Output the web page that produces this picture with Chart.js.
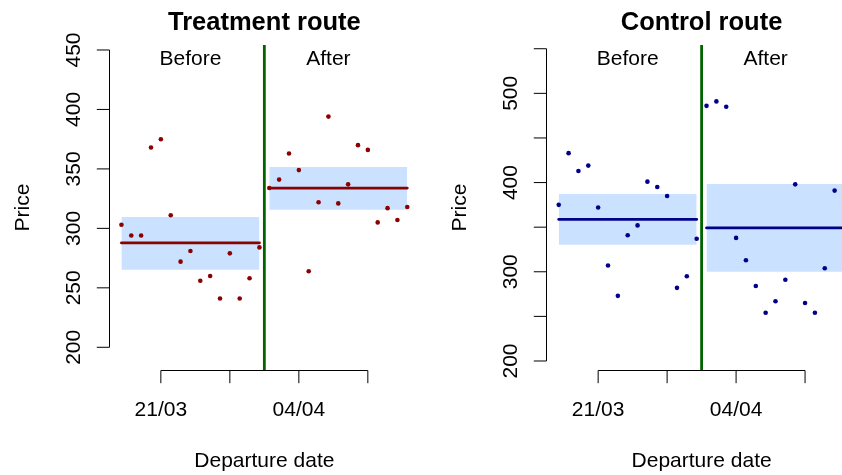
<!DOCTYPE html>
<html>
<head>
<meta charset="utf-8">
<script src="https://cdn.jsdelivr.net/npm/chart.js@4.4.1/dist/chart.umd.min.js"></script>
<style>
  html, body { margin: 0; padding: 0; background: #fff; overflow: hidden; width: 842px; height: 475px; }
  #left { position: absolute; left: 0; top: 0; }
  #rightWrap { position: absolute; left: 421px; top: 0; width: 421px; height: 475px; overflow: hidden; }
</style>
</head>
<body>
<canvas id="left" width="421" height="475"></canvas>
<div id="rightWrap"><canvas id="right" width="440" height="475"></canvas></div>
<script>
// Departure dates, one per day
const dates = ['17/03','18/03','19/03','20/03','21/03','22/03','23/03','24/03','25/03','26/03',
               '27/03','28/03','29/03','30/03','31/03','01/04','02/04','03/04','04/04','05/04',
               '06/04','07/04','08/04','09/04','10/04','11/04','12/04','13/04','14/04','15/04'];
const beforeDates = dates.slice(0, 15);
const afterDates = dates.slice(15);

// Prices per departure date
const treatmentPrices = [303, 294, 294, 368, 375, 311, 272, 281, 256, 260, 241, 279, 241, 258, 284,
                         334, 341, 363, 349, 264, 322, 394, 321, 337, 370, 366, 305, 317, 307, 318];
const controlPrices   = [375, 433, 413, 419, 372, 307, 273, 341, 352, 401, 395, 385, 282, 295, 337,
                         486, 491, 485, 338, 313, 284, 254, 267, 291, 398, 265, 254, 304, 391, 417];

// Confidence band for the mean price of each period [before, after]
const treatmentBandLow  = [265.3, 315.7];
const treatmentBandHigh = [309.6, 351.6];
const controlBandLow    = [330.4, 300.1];
const controlBandHigh   = [387.2, 398.4];

// Period captions and where they sit
const periodLabels = ['Before', 'After'];
const periodLabelDates = ['24/03', '07/04'];

// Axis ticks
const xTickDates  = ['21/03', '28/03', '04/04', '11/04'];
const xTickLabels = ['21/03', '', '04/04', ''];
const treatmentTicks = [200, 250, 300, 350, 400, 450];
const treatmentTickLabels = ['200', '250', '300', '350', '400', '450'];
const controlTicks = [200, 250, 300, 350, 400, 450, 500, 550];
const controlTickLabels = ['200', '', '300', '', '400', '', '500', ''];

const FONT = '"Liberation Sans", Arial, Helvetica, sans-serif';
const idx = d => dates.indexOf(d);
const breakX = (idx(beforeDates[beforeDates.length - 1]) + idx(afterDates[0])) / 2;
const mean = a => a.reduce((s, v) => s + v, 0) / a.length;

// Base-graphics style axes, titles and captions
const rStyle = {
  id: 'rStyle',
  afterDraw(chart, args, o) {
    const ctx = chart.ctx, ca = chart.chartArea;
    const xs = chart.scales.x, ys = chart.scales.y;
    const tick = 12.7;
    ctx.save();
    ctx.strokeStyle = '#000';
    ctx.fillStyle = '#000';
    ctx.lineWidth = 1;

    // x axis
    const xt = o.xTicks.map(d => xs.getPixelForValue(idx(d)));
    const yb = Math.round(ca.bottom) + 0.5;
    ctx.beginPath();
    ctx.moveTo(xt[0], yb); ctx.lineTo(xt[xt.length - 1], yb);
    xt.forEach(px => { ctx.moveTo(px, yb); ctx.lineTo(px, yb + tick); });
    ctx.stroke();
    ctx.font = '21px ' + FONT;
    ctx.textAlign = 'center';
    ctx.textBaseline = 'alphabetic';
    xt.forEach((px, i) => { if (o.xLabels[i]) ctx.fillText(o.xLabels[i], px, ca.bottom + 46); });
    ctx.fillText('Departure date', (ca.left + ca.right) / 2, ca.bottom + 97);

    // y axis
    const yt = o.yTicks.map(v => ys.getPixelForValue(v));
    const xl = Math.round(ca.left) - 0.5;
    ctx.beginPath();
    ctx.moveTo(xl, yt[0]); ctx.lineTo(xl, yt[yt.length - 1]);
    yt.forEach(py => { ctx.moveTo(xl, py); ctx.lineTo(xl - tick, py); });
    ctx.stroke();
    yt.forEach((py, i) => {
      if (!o.yLabels[i]) return;
      ctx.save();
      ctx.translate(ca.left - 30, py);
      ctx.rotate(-Math.PI / 2);
      ctx.fillText(o.yLabels[i], 0, 0);
      ctx.restore();
    });
    ctx.save();
    ctx.translate(ca.left - 81, (ca.top + ca.bottom) / 2);
    ctx.rotate(-Math.PI / 2);
    ctx.fillText('Price', 0, 0);
    ctx.restore();

    // period captions
    periodLabels.forEach((t, i) => {
      ctx.fillText(t, xs.getPixelForValue(idx(periodLabelDates[i])), ca.top + 20);
    });

    // main title
    ctx.font = 'bold 25.5px ' + FONT;
    ctx.fillText(o.title, (ca.left + ca.right) / 2, 30);
    ctx.restore();
  }
};

function buildChart(canvasId, prices, bandLow, bandHigh, color, yMin, yMax, yTicks, yLabels, title, padding) {
  const pts = prices.map((v, i) => ({ x: i, y: v }));
  const periods = [beforeDates, afterDates];
  const datasets = [];

  // observed prices
  datasets.push({
    data: pts, showLine: false, order: 0,
    pointRadius: 2.3, pointBackgroundColor: color, pointBorderWidth: 0, pointHoverRadius: 2.3
  });

  periods.forEach((p, k) => {
    const x0 = idx(p[0]), x1 = idx(p[p.length - 1]);
    const m = mean(prices.slice(x0, x1 + 1));
    // period mean
    datasets.push({
      data: [{ x: x0, y: m }, { x: x1, y: m }], order: 1,
      borderColor: color, borderWidth: 2.8, borderCapStyle: 'round', pointRadius: 0, fill: false
    });
    // confidence band
    datasets.push({
      data: [{ x: x0, y: bandHigh[k] }, { x: x1, y: bandHigh[k] }], order: 3,
      borderWidth: 0, pointRadius: 0, fill: '+1', backgroundColor: '#CAE1FF'
    });
    datasets.push({
      data: [{ x: x0, y: bandLow[k] }, { x: x1, y: bandLow[k] }], order: 3,
      borderWidth: 0, pointRadius: 0, fill: false
    });
  });

  // intervention date
  datasets.push({
    data: [{ x: breakX, y: yMin }, { x: breakX, y: yMax }], order: 2,
    borderColor: '#006400', borderWidth: 2.8, pointRadius: 0, fill: false
  });

  const span = dates.length - 1;
  return new Chart(document.getElementById(canvasId), {
    type: 'line',
    data: { datasets },
    options: {
      responsive: false,
      animation: false,
      events: [],
      layout: { padding },
      scales: {
        x: { type: 'linear', display: false, min: -0.04 * span, max: span + 0.04 * span },
        y: { type: 'linear', display: false, min: yMin, max: yMax }
      },
      plugins: {
        legend: { display: false },
        tooltip: { enabled: false },
        rStyle: { title, xTicks: xTickDates, xLabels: xTickLabels, yTicks, yLabels }
      }
    },
    plugins: [rStyle]
  });
}

buildChart('left', treatmentPrices, treatmentBandLow, treatmentBandHigh, '#8B0000',
  180.9, 454.2, treatmentTicks, treatmentTickLabels, 'Treatment route',
  { left: 110, right: 1.8, top: 45, bottom: 105 });

buildChart('right', controlPrices, controlBandLow, controlBandHigh, '#00008B',
  189.9, 554.2, controlTicks, controlTickLabels, 'Control route',
  { left: 126.3, right: 5.1, top: 45, bottom: 105 });
</script>
</body>
</html>
